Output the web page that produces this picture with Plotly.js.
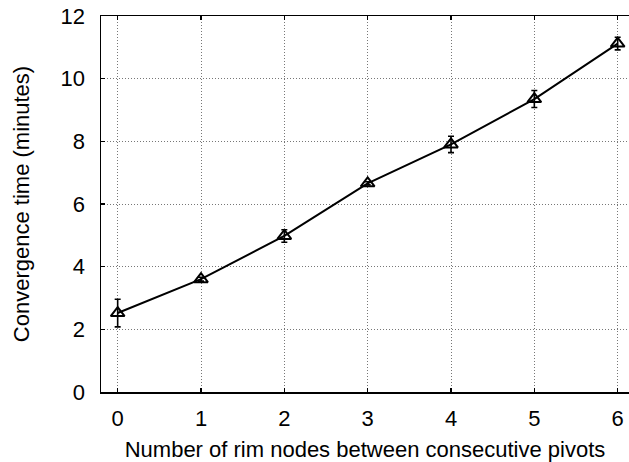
<!DOCTYPE html>
<html>
<head>
<meta charset="utf-8">
<script src="https://cdn.plot.ly/plotly-3.0.1.min.js"></script>
<style>html,body{margin:0;padding:0;background:#fff;}#chart{width:629px;height:462px;}</style>
</head>
<body>
<div id="chart"></div>
<script>
const rimNodes = [0, 1, 2, 3, 4, 5, 6];
const convergenceTime = [2.52, 3.6, 4.98, 6.66, 7.9, 9.35, 11.12];
const errorHalf = [0.44, 0.06, 0.2, 0.05, 0.26, 0.27, 0.2];
const xTickLabels = ['0', '1', '2', '3', '4', '5', '6'];
const yTicks = [0, 2, 4, 6, 8, 10, 12];

const trace = {
  x: rimNodes,
  y: convergenceTime,
  type: 'scatter',
  mode: 'lines+markers',
  line: {color: '#000', width: 2},
  marker: {symbol: 'triangle-up-open', size: 12, color: '#000', line: {width: 2, color: '#000'}},
  error_y: {type: 'data', array: errorHalf, visible: true, color: '#000', thickness: 1.6, width: 3},
  showlegend: false,
  cliponaxis: false
};

const tickFont = {family: 'Liberation Sans, Arial, sans-serif', size: 22, color: '#000'};
const titleFont = {family: 'Liberation Sans, Arial, sans-serif', size: 22, color: '#000'};

const layout = {
  width: 629, height: 462,
  margin: {l: 101, r: 0, t: 16, b: 70, pad: 0},
  paper_bgcolor: '#fff', plot_bgcolor: '#fff',
  font: tickFont,
  xaxis: {
    range: [-0.2, 6.136],
    tickvals: rimNodes, ticktext: xTickLabels,
    ticks: 'inside', ticklen: 4, tickwidth: 1.5, tickcolor: '#000',
    ticklabelstandoff: 6,
    showline: true, linecolor: '#000', linewidth: 1.5, mirror: 'ticks',
    showgrid: true, gridcolor: '#777', griddash: '1px,2px', gridwidth: 1,
    zeroline: false,
    tickfont: tickFont,
    title: {text: 'Number of rim nodes between consecutive pivots', font: titleFont, standoff: 12}
  },
  yaxis: {
    range: [0, 12],
    tickvals: yTicks,
    ticks: 'inside', ticklen: 4, tickwidth: 1.5, tickcolor: '#000',
    ticklabelstandoff: 10,
    showline: true, linecolor: '#000', linewidth: 1.5, mirror: false,
    showgrid: true, gridcolor: '#777', griddash: '1px,2px', gridwidth: 1,
    zeroline: false,
    tickfont: tickFont,
    title: {text: 'Convergence time (minutes)', font: titleFont, standoff: 25}
  }
};

Plotly.newPlot('chart', [trace], layout, {displayModeBar: false, staticPlot: true});
</script>
</body>
</html>
